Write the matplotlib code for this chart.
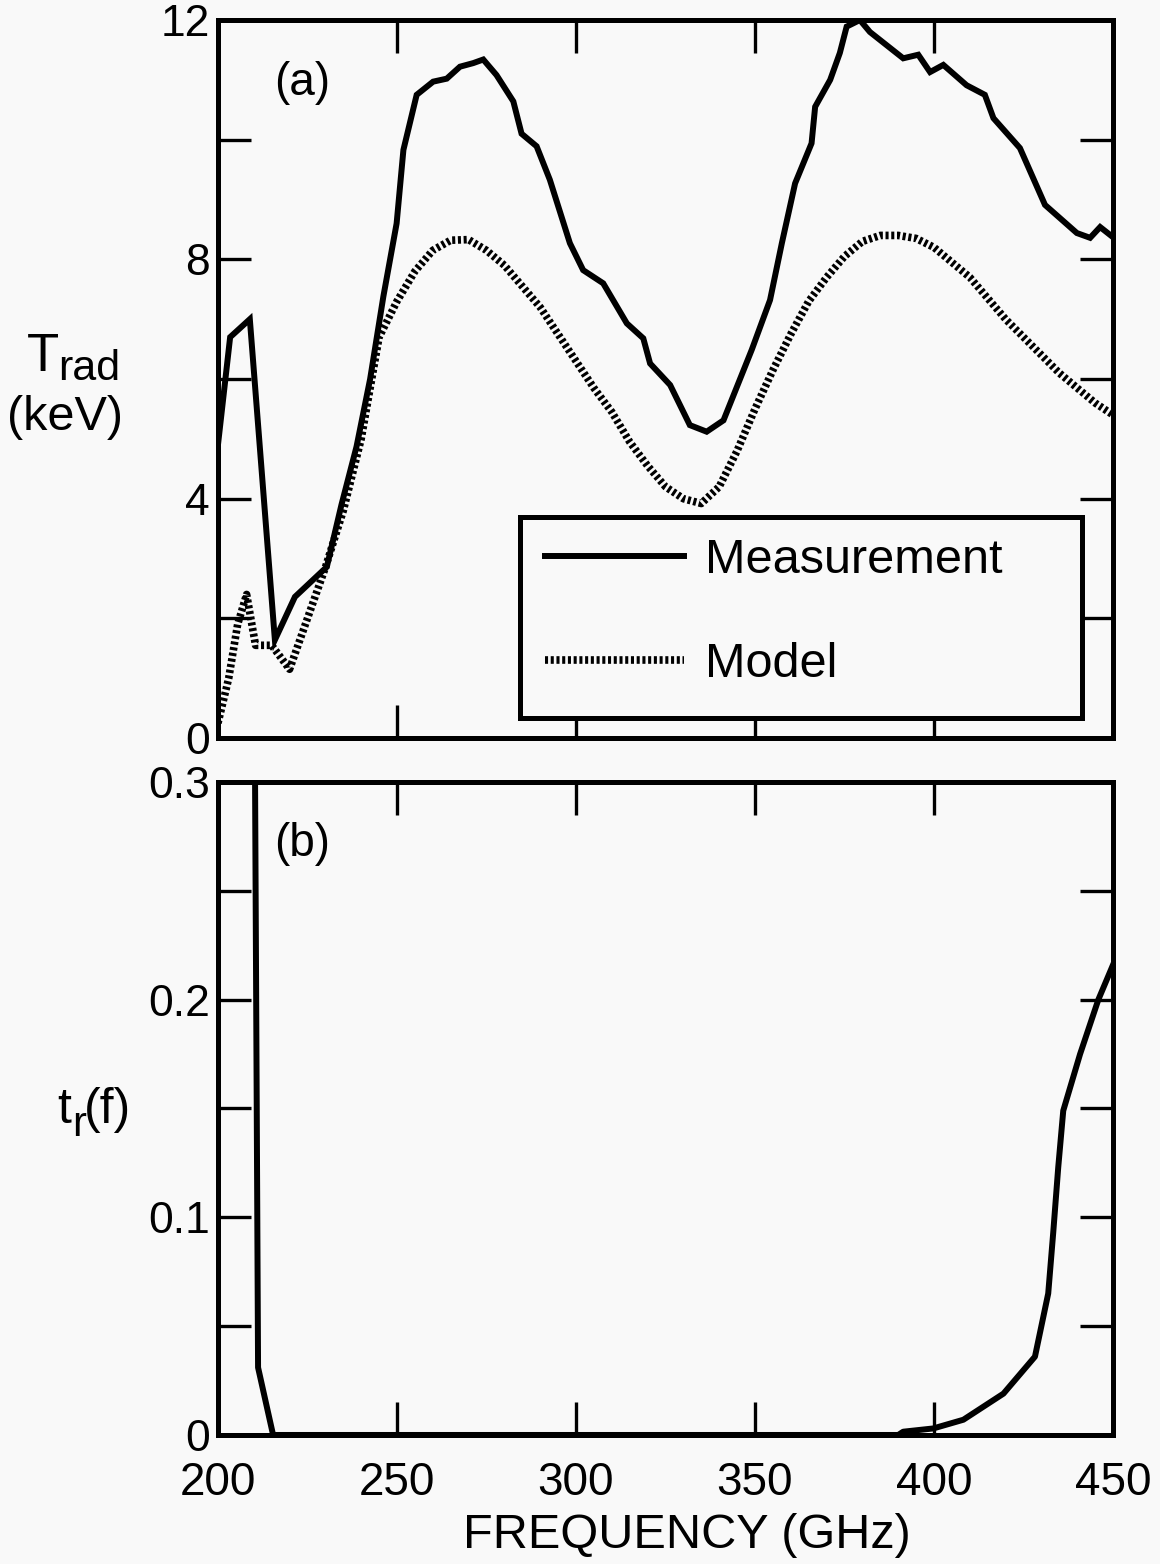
import matplotlib
matplotlib.use("Agg")
import matplotlib.pyplot as plt
from matplotlib.ticker import FixedLocator
from matplotlib.patches import Rectangle
from matplotlib import font_manager

plt.rcParams['font.family'] = ['Liberation Sans', 'DejaVu Sans']

names = {f.name for f in font_manager.fontManager.ttflist}
HAS_NARROW = 'Liberation Sans Narrow' in names
tick_family = ['Liberation Sans Narrow', 'Liberation Sans'] if HAS_NARROW else ['Liberation Sans']
ytick_size = 37 if HAS_NARROW else 32

# ---------------- data ----------------
meas_f = [200, 203.4, 208.9, 215.9, 221.5, 230.4, 234.5, 238.7, 242.5, 246.2,
          249.9, 251.8, 255.5, 260.1, 263.9, 267.6, 271.3, 274.1, 277.8, 282.5,
          284.8, 289.0, 292.7, 298.3, 302.0, 307.6, 314.2, 318.8, 320.7, 326.3,
          331.8, 336.5, 341.2, 349.1, 354.2, 357.5, 361.2, 365.8, 366.8, 371.0,
          373.7, 375.6, 379.3, 382.1, 391.4, 395.6, 398.9, 402.6, 409.1, 414.2,
          416.6, 424.0, 431.0, 439.9, 443.6, 446.4, 450]
meas_T = [4.9, 6.7, 7.0, 1.64, 2.36, 2.86, 3.9, 4.87, 6.0, 7.38,
          8.6, 9.83, 10.75, 10.97, 11.02, 11.22, 11.28, 11.34, 11.08, 10.64,
          10.10, 9.89, 9.33, 8.27, 7.82, 7.60, 6.93, 6.68, 6.26, 5.90,
          5.23, 5.12, 5.31, 6.49, 7.32, 8.27, 9.27, 9.94, 10.55, 11.0,
          11.45, 11.89, 12.0, 11.8, 11.36, 11.42, 11.13, 11.25, 10.91, 10.75,
          10.36, 9.86, 8.91, 8.44, 8.36, 8.54, 8.37]

model_f = [200, 203, 205.5, 208, 210.5, 215, 220, 225, 230, 235, 240, 245, 250,
           255, 260, 265, 270, 275, 280, 285, 290, 295, 300, 305, 310, 315, 320,
           325, 330, 335, 340, 345, 350, 355, 360, 365, 370, 375, 380, 385, 390,
           395, 400, 405, 410, 415, 420, 425, 430, 435, 440, 445, 450]
model_T = [0.25, 1.0, 1.9, 2.4, 1.55, 1.55, 1.15, 2.0, 2.85, 3.8, 5.0, 6.7, 7.3,
           7.8, 8.15, 8.32, 8.33, 8.15, 7.9, 7.55, 7.2, 6.75, 6.3, 5.85, 5.45, 4.95, 4.55,
           4.2, 4.0, 3.92, 4.2, 4.8, 5.5, 6.15, 6.75, 7.3, 7.7, 8.05, 8.3, 8.4, 8.4,
           8.35, 8.2, 7.95, 7.7, 7.35, 7.0, 6.7, 6.4, 6.1, 5.85, 5.6, 5.4]

tr_f = [210.3, 211.2, 215.4, 390, 391.4, 399.8, 408.2, 419.4, 428.2, 431.9,
        433.3, 434.7, 436.1, 440.8, 445.9, 450]
tr_v = [0.32, 0.031, 0.0, 0.0, 0.0015, 0.003, 0.007, 0.019, 0.036, 0.065,
        0.093, 0.123, 0.149, 0.175, 0.200, 0.216]

x_ticks = [200, 250, 300, 350, 400, 450]
x_ticklabels = ['200', '250', '300', '350', '400', '450']
top_major = [0, 4, 8, 12]
top_minor = [2, 6, 10]
bot_major = [0, 0.1, 0.2, 0.3]
bot_labels = ['0', '0.1', '0.2', '0.3']
bot_minor = [0.05, 0.15, 0.25]

# ---------------- figure ----------------
bg = '#f9f9f9'
fig = plt.figure(figsize=(11.6, 15.64), dpi=100, facecolor=bg)
ax1 = fig.add_axes([0.1879, 0.5281, 0.7716, 0.4591], facecolor=bg)
ax2 = fig.add_axes([0.1879, 0.0825, 0.7716, 0.4175], facecolor=bg)

LW = 4.3
ax1.plot(meas_f, meas_T, color='black', lw=LW, solid_joinstyle='miter',
         label='Measurement', zorder=3)
ax1.plot(model_f, model_T, color='black', lw=5.5, dashes=(0.4, 0.35),
         dash_capstyle='butt', label='Model', zorder=2)
ax2.plot(tr_f, tr_v, color='black', lw=LW, zorder=3)

ax1.set_xlim(200, 450)
ax1.set_ylim(0, 12)
ax2.set_xlim(200, 450)
ax2.set_ylim(0, 0.3)

for ax in (ax1, ax2):
    for s in ax.spines.values():
        s.set_linewidth(3.6)
    ax.tick_params(which='both', direction='in', top=True, right=True,
                   length=24, width=2.4, pad=6)
    ax.tick_params(axis='x', pad=19)

ax1.xaxis.set_major_locator(FixedLocator(x_ticks))
ax1.set_xticklabels([])
ax1.yaxis.set_major_locator(FixedLocator(top_major))
ax1.yaxis.set_minor_locator(FixedLocator(top_minor))
ax1.set_yticklabels([str(v) for v in top_major], family=tick_family, fontsize=ytick_size)

ax2.xaxis.set_major_locator(FixedLocator(x_ticks))
ax2.set_xticklabels(x_ticklabels, family=tick_family, fontsize=ytick_size + 1)
ax2.yaxis.set_major_locator(FixedLocator(bot_major))
ax2.yaxis.set_minor_locator(FixedLocator(bot_minor))
ax2.set_yticklabels(bot_labels, family=tick_family, fontsize=ytick_size)

ax1.text(0.063, 0.912, '(a)', transform=ax1.transAxes, fontsize=33,
         ha='left', va='center')
ax2.text(0.063, 0.905, '(b)', transform=ax2.transAxes, fontsize=33,
         ha='left', va='center')

ax2.set_xlabel('FREQUENCY (GHz)', fontsize=35)
ax2.xaxis.set_label_coords(0.524, -0.119)

# y-axis labels
fig.text(0.037, 0.772, 'T', fontsize=38, ha='center', va='center')
fig.text(0.077, 0.764, 'rad', fontsize=31, ha='center', va='center')
fig.text(0.056, 0.733, '(keV)', fontsize=35, ha='center', va='center')
fig.text(0.055, 0.290, 't', fontsize=36, ha='center', va='center')
fig.text(0.068, 0.281, 'r', fontsize=30, ha='center', va='center')
fig.text(0.093, 0.290, '(f)', fontsize=36, ha='center', va='center')

# legend box and entries
ax1.add_patch(Rectangle((0.3374, 0.0279), 0.628, 0.28, transform=ax1.transAxes,
                        facecolor=bg, edgecolor='black', lw=3.6, zorder=4))
leg = ax1.legend(loc='upper left', bbox_to_anchor=(0.3654, 0.278),
                 fontsize=35, frameon=False,
                 handlelength=2.85, handletextpad=0.45, labelspacing=1.2,
                 borderpad=0, borderaxespad=0)
leg.set_zorder(5)

fig.savefig('out.png', dpi=100, facecolor=bg)
